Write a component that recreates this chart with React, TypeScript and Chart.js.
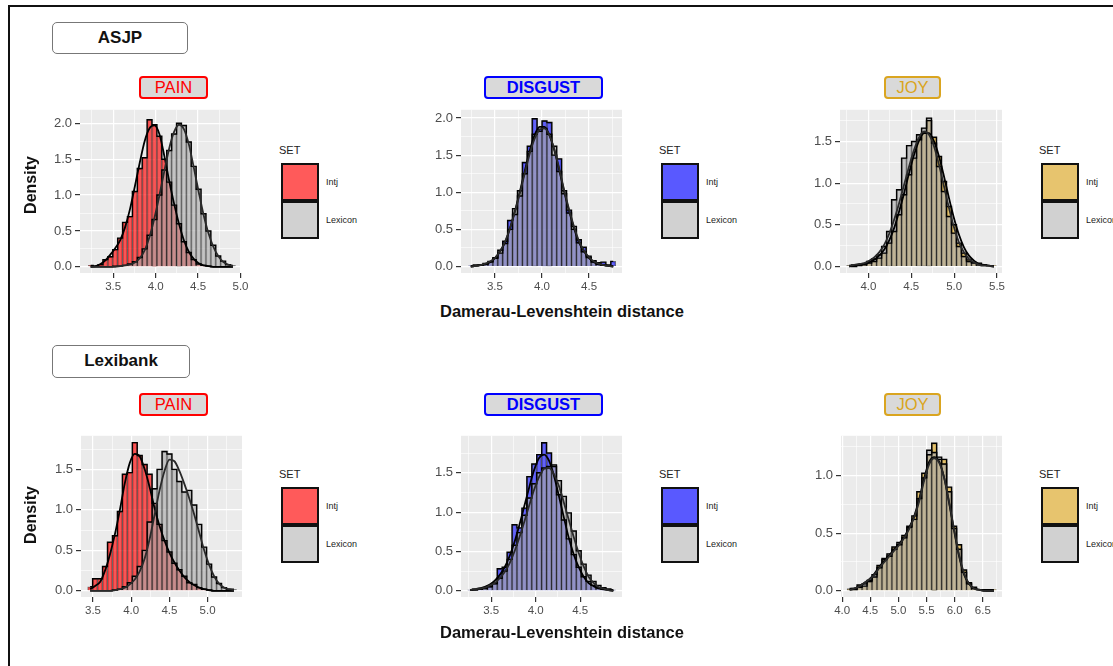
import React, { useEffect, useRef } from "react";
import { Chart, registerables } from "chart.js";
Chart.register(...registerables);

const FONT = '"Liberation Sans", Arial, Helvetica, sans-serif';

// ---------------- ASJP · PAIN ----------------
const PAIN_A_BIN_START = 3.206;
const PAIN_A_BIN_WIDTH = 0.0578;
const PAIN_A_INTJ = [0.02, 0.01, 0.03, 0.10, 0.14, 0.24, 0.40, 0.62, 0.70, 1.05, 1.37, 1.52, 2.05, 1.98, 1.82, 1.50, 1.18, 0.86, 0.60, 0.35, 0.20, 0.10, 0.04, 0.02, 0.01, 0, 0, 0, 0, 0];
const PAIN_A_LEX = [0, 0, 0, 0, 0, 0.01, 0.01, 0.02, 0.04, 0.07, 0.13, 0.25, 0.44, 0.66, 1.00, 1.35, 1.62, 1.85, 2.00, 1.97, 1.74, 1.40, 1.08, 0.74, 0.50, 0.30, 0.15, 0.08, 0.03, 0.02];
const PAIN_A_INTJ_DENS = [0, 0.01, 0.04, 0.09, 0.17, 0.26, 0.37, 0.55, 0.80, 1.12, 1.45, 1.75, 1.93, 1.97, 1.85, 1.55, 1.20, 0.88, 0.60, 0.37, 0.21, 0.11, 0.05, 0.02, 0.01, 0, 0, 0, 0, 0];
const PAIN_A_LEX_DENS = [0, 0, 0, 0, 0, 0, 0.01, 0.02, 0.03, 0.06, 0.12, 0.23, 0.42, 0.68, 0.99, 1.33, 1.65, 1.88, 1.98, 1.92, 1.71, 1.39, 1.05, 0.73, 0.47, 0.28, 0.15, 0.07, 0.03, 0.01];
const PAIN_A_XTICKS = [3.25, 3.5, 3.75, 4.0, 4.25, 4.5, 4.75, 5.0];
const PAIN_A_YTICKS = [0, 0.25, 0.5, 0.75, 1.0, 1.25, 1.5, 1.75, 2.0];

// ---------------- ASJP · DISGUST ----------------
const DISGUST_A_BIN_START = 3.217;
const DISGUST_A_BIN_WIDTH = 0.0522;
const DISGUST_A_INTJ = [0.01, 0.02, 0.02, 0.04, 0.06, 0.12, 0.18, 0.34, 0.62, 0.70, 0.95, 1.40, 1.62, 1.99, 1.85, 1.96, 1.94, 1.50, 1.45, 0.98, 0.76, 0.50, 0.36, 0.26, 0.14, 0.08, 0.05, 0.06, 0.02, 0.07];
const DISGUST_A_LEX = [0.00, 0.01, 0.02, 0.03, 0.07, 0.11, 0.22, 0.31, 0.50, 0.78, 1.02, 1.25, 1.55, 1.78, 1.82, 1.86, 1.78, 1.62, 1.28, 1.02, 0.72, 0.54, 0.32, 0.20, 0.12, 0.06, 0.03, 0.02, 0.01, 0.01];
const DISGUST_A_INTJ_DENS = [0.00, 0.01, 0.02, 0.03, 0.06, 0.12, 0.21, 0.33, 0.52, 0.75, 1.01, 1.29, 1.56, 1.77, 1.88, 1.88, 1.77, 1.57, 1.30, 1.01, 0.75, 0.52, 0.33, 0.21, 0.12, 0.06, 0.03, 0.02, 0.01, 0.00];
const DISGUST_A_LEX_DENS = [0.00, 0.01, 0.02, 0.04, 0.07, 0.12, 0.21, 0.34, 0.52, 0.74, 0.99, 1.26, 1.52, 1.72, 1.84, 1.86, 1.77, 1.58, 1.32, 1.03, 0.77, 0.54, 0.35, 0.22, 0.13, 0.07, 0.04, 0.02, 0.01, 0.00];
const DISGUST_A_XTICKS = [3.25, 3.5, 3.75, 4.0, 4.25, 4.5, 4.75];
const DISGUST_A_YTICKS = [0, 0.25, 0.5, 0.75, 1.0, 1.25, 1.5, 1.75, 2.0];

// ---------------- ASJP · JOY ----------------
const JOY_A_BIN_START = 3.747;
const JOY_A_BIN_WIDTH = 0.0582;
const JOY_A_INTJ = [0.01, 0.00, 0.01, 0.02, 0.04, 0.06, 0.10, 0.16, 0.28, 0.42, 0.62, 0.86, 1.10, 1.30, 1.52, 1.60, 1.75, 1.55, 1.32, 1.02, 0.72, 0.50, 0.28, 0.16, 0.08, 0.04, 0.04, 0.02, 0.01, 0.01];
const JOY_A_LEX = [0.01, 0.02, 0.02, 0.03, 0.06, 0.09, 0.14, 0.24, 0.42, 0.80, 0.92, 1.30, 1.45, 1.50, 1.58, 1.66, 1.78, 1.48, 1.20, 0.90, 0.60, 0.40, 0.24, 0.12, 0.06, 0.05, 0.02, 0.02, 0.01, 0.00];
const JOY_A_INTJ_DENS = [0.00, 0.01, 0.02, 0.03, 0.05, 0.08, 0.13, 0.20, 0.31, 0.46, 0.66, 0.88, 1.12, 1.34, 1.51, 1.60, 1.60, 1.50, 1.32, 1.08, 0.82, 0.58, 0.38, 0.23, 0.13, 0.07, 0.03, 0.02, 0.01, 0.00];
const JOY_A_LEX_DENS = [0.01, 0.02, 0.03, 0.04, 0.07, 0.11, 0.17, 0.26, 0.39, 0.56, 0.76, 0.98, 1.20, 1.40, 1.55, 1.62, 1.58, 1.44, 1.22, 0.96, 0.70, 0.47, 0.29, 0.17, 0.09, 0.05, 0.02, 0.01, 0.01, 0.00];
const JOY_A_XTICKS = [3.75, 4.0, 4.25, 4.5, 4.75, 5.0, 5.25, 5.5];
const JOY_A_YTICKS = [0, 0.25, 0.5, 0.75, 1.0, 1.25, 1.5, 1.75];

// ---------------- Lexibank · PAIN ----------------
const PAIN_L_BIN_START = 3.43;
const PAIN_L_BIN_WIDTH = 0.0649;
const PAIN_L_INTJ = [0.05, 0.15, 0.15, 0.30, 0.60, 0.68, 0.98, 1.44, 1.46, 1.83, 1.67, 1.56, 1.44, 1.08, 0.82, 0.62, 0.48, 0.34, 0.26, 0.18, 0.10, 0.08, 0.04, 0.02, 0.01, 0, 0, 0, 0, 0];
const PAIN_L_LEX = [0, 0, 0, 0, 0, 0.01, 0.02, 0.05, 0.10, 0.18, 0.30, 0.50, 0.85, 1.26, 1.50, 1.72, 1.69, 1.50, 1.35, 1.22, 1.24, 1.06, 0.82, 0.54, 0.33, 0.17, 0.09, 0.04, 0.02, 0.02];
const PAIN_L_INTJ_DENS = [0.02, 0.06, 0.11, 0.25, 0.45, 0.70, 1.00, 1.33, 1.58, 1.69, 1.66, 1.50, 1.28, 1.02, 0.80, 0.62, 0.47, 0.35, 0.25, 0.17, 0.11, 0.07, 0.04, 0.02, 0.01, 0, 0, 0, 0, 0];
const PAIN_L_LEX_DENS = [0, 0, 0, 0, 0, 0.01, 0.02, 0.04, 0.08, 0.14, 0.24, 0.40, 0.64, 0.94, 1.24, 1.48, 1.62, 1.60, 1.48, 1.32, 1.14, 0.94, 0.72, 0.50, 0.32, 0.18, 0.09, 0.04, 0.02, 0.01];
const PAIN_L_XTICKS = [3.5, 3.75, 4.0, 4.25, 4.5, 4.75, 5.0, 5.25];
const PAIN_L_YTICKS = [0, 0.25, 0.5, 0.75, 1.0, 1.25, 1.5, 1.75];

// ---------------- Lexibank · DISGUST ----------------
const DISGUST_L_BIN_START = 3.235;
const DISGUST_L_BIN_WIDTH = 0.0555;
const DISGUST_L_INTJ = [0.01, 0.02, 0.03, 0.04, 0.06, 0.10, 0.28, 0.30, 0.49, 0.84, 0.80, 1.05, 1.45, 1.61, 1.73, 1.88, 1.75, 1.58, 1.22, 0.90, 0.66, 0.46, 0.30, 0.18, 0.12, 0.07, 0.04, 0.03, 0.02, 0.01];
const DISGUST_L_LEX = [0.01, 0.01, 0.02, 0.03, 0.05, 0.09, 0.16, 0.25, 0.40, 0.58, 0.74, 0.96, 1.18, 1.36, 1.50, 1.56, 1.58, 1.60, 1.40, 1.20, 0.99, 0.76, 0.51, 0.34, 0.20, 0.12, 0.07, 0.04, 0.02, 0.01];
const DISGUST_L_INTJ_DENS = [0.01, 0.02, 0.03, 0.05, 0.08, 0.13, 0.20, 0.30, 0.44, 0.62, 0.84, 1.08, 1.32, 1.54, 1.69, 1.73, 1.65, 1.46, 1.20, 0.93, 0.67, 0.46, 0.30, 0.18, 0.10, 0.06, 0.03, 0.02, 0.01, 0.00];
const DISGUST_L_LEX_DENS = [0.01, 0.02, 0.03, 0.04, 0.07, 0.10, 0.16, 0.24, 0.35, 0.50, 0.68, 0.88, 1.09, 1.29, 1.45, 1.55, 1.56, 1.48, 1.33, 1.12, 0.90, 0.68, 0.48, 0.31, 0.18, 0.10, 0.05, 0.03, 0.01, 0.00];
const DISGUST_L_XTICKS = [3.25, 3.5, 3.75, 4.0, 4.25, 4.5, 4.75];
const DISGUST_L_YTICKS = [0, 0.25, 0.5, 0.75, 1.0, 1.25, 1.5, 1.75];

// ---------------- Lexibank · JOY ----------------
const JOY_L_BIN_START = 4.089;
const JOY_L_BIN_WIDTH = 0.0884;
const JOY_L_INTJ = [0.02, 0.01, 0.05, 0.04, 0.09, 0.12, 0.22, 0.28, 0.30, 0.38, 0.40, 0.48, 0.56, 0.65, 0.86, 1.02, 1.18, 1.28, 1.14, 1.14, 0.90, 0.56, 0.40, 0.18, 0.07, 0.03, 0.01, 0.01, 0.01, 0.01];
const JOY_L_LEX = [0.01, 0.02, 0.03, 0.06, 0.08, 0.14, 0.20, 0.27, 0.32, 0.36, 0.42, 0.46, 0.55, 0.62, 0.80, 0.98, 1.22, 1.20, 1.16, 1.10, 0.86, 0.54, 0.36, 0.16, 0.06, 0.02, 0.01, 0.01, 0.00, 0.00];
const JOY_L_INTJ_DENS = [0.01, 0.02, 0.04, 0.07, 0.10, 0.15, 0.21, 0.26, 0.31, 0.36, 0.41, 0.47, 0.55, 0.65, 0.80, 0.98, 1.12, 1.16, 1.12, 0.98, 0.76, 0.52, 0.30, 0.14, 0.06, 0.02, 0.01, 0.00, 0.00, 0.00];
const JOY_L_LEX_DENS = [0.01, 0.02, 0.04, 0.07, 0.10, 0.14, 0.20, 0.25, 0.30, 0.35, 0.40, 0.46, 0.54, 0.64, 0.78, 0.96, 1.10, 1.15, 1.11, 0.98, 0.77, 0.53, 0.31, 0.15, 0.06, 0.02, 0.01, 0.00, 0.00, 0.00];
const JOY_L_XTICKS = [4.0, 4.25, 4.5, 4.75, 5.0, 5.25, 5.5, 5.75, 6.0, 6.25, 6.5, 6.75];
const JOY_L_YTICKS = [0, 0.25, 0.5, 0.75, 1.0, 1.25];

const SET_LABELS = ["Intj", "Lexicon"];
const X_TITLE = "Damerau-Levenshtein distance";
const Y_TITLE = "Density";

// ---------------- styles ----------------
const EMO = {
  PAIN: { text: "#FF0000", bar: "rgba(255,0,0,0.64)", key: "#FF5A5A", bold: false },
  DISGUST: { text: "#0000FF", bar: "rgba(0,0,255,0.58)", key: "#5959FF", bold: true },
  JOY: { text: "#DAA520", bar: "rgba(218,165,32,0.62)", key: "#E7C46E", bold: false },
};
const LEX_BAR = "rgba(172,172,172,0.64)";
const LEX_KEY = "#D1D1D1";

type PanelCfg = {
  name: keyof typeof EMO;
  left: number; top: number; width: number; height: number;
  xMin: number; xMax: number; yMin: number; yMax: number;
  binStart: number; binWidth: number;
  intj: number[]; lex: number[]; intjDens: number[]; lexDens: number[];
  xTicks: number[]; yTicks: number[];
};

const PANELS: PanelCfg[] = [
  { name: "PAIN", left: 80, top: 107, width: 161, height: 166, xMin: 3.109, xMax: 5.006, yMin: -0.086, yMax: 2.188,
    binStart: PAIN_A_BIN_START, binWidth: PAIN_A_BIN_WIDTH, intj: PAIN_A_INTJ, lex: PAIN_A_LEX, intjDens: PAIN_A_INTJ_DENS, lexDens: PAIN_A_LEX_DENS, xTicks: PAIN_A_XTICKS, yTicks: PAIN_A_YTICKS },
  { name: "DISGUST", left: 461, top: 107, width: 161, height: 166, xMin: 3.139, xMax: 4.85, yMin: -0.087, yMax: 2.11,
    binStart: DISGUST_A_BIN_START, binWidth: DISGUST_A_BIN_WIDTH, intj: DISGUST_A_INTJ, lex: DISGUST_A_LEX, intjDens: DISGUST_A_INTJ_DENS, lexDens: DISGUST_A_LEX_DENS, xTicks: DISGUST_A_XTICKS, yTicks: DISGUST_A_YTICKS },
  { name: "JOY", left: 840, top: 107, width: 162, height: 166, xMin: 3.669, xMax: 5.558, yMin: -0.078, yMax: 1.88,
    binStart: JOY_A_BIN_START, binWidth: JOY_A_BIN_WIDTH, intj: JOY_A_INTJ, lex: JOY_A_LEX, intjDens: JOY_A_INTJ_DENS, lexDens: JOY_A_LEX_DENS, xTicks: JOY_A_XTICKS, yTicks: JOY_A_YTICKS },
  { name: "PAIN", left: 81, top: 433, width: 161, height: 164, xMin: 3.343, xMax: 5.45, yMin: -0.076, yMax: 1.914,
    binStart: PAIN_L_BIN_START, binWidth: PAIN_L_BIN_WIDTH, intj: PAIN_L_INTJ, lex: PAIN_L_LEX, intjDens: PAIN_L_INTJ_DENS, lexDens: PAIN_L_LEX_DENS, xTicks: PAIN_L_XTICKS, yTicks: PAIN_L_YTICKS },
  { name: "DISGUST", left: 461, top: 433, width: 161, height: 164, xMin: 3.161, xMax: 4.97, yMin: -0.078, yMax: 1.969,
    binStart: DISGUST_L_BIN_START, binWidth: DISGUST_L_BIN_WIDTH, intj: DISGUST_L_INTJ, lex: DISGUST_L_LEX, intjDens: DISGUST_L_INTJ_DENS, lexDens: DISGUST_L_LEX_DENS, xTicks: DISGUST_L_XTICKS, yTicks: DISGUST_L_YTICKS },
  { name: "JOY", left: 841, top: 433, width: 161, height: 164, xMin: 3.98, xMax: 6.84, yMin: -0.054, yMax: 1.345,
    binStart: JOY_L_BIN_START, binWidth: JOY_L_BIN_WIDTH, intj: JOY_L_INTJ, lex: JOY_L_LEX, intjDens: JOY_L_INTJ_DENS, lexDens: JOY_L_LEX_DENS, xTicks: JOY_L_XTICKS, yTicks: JOY_L_YTICKS },
];

const YW = 40; // y-axis box width
const XH = 26; // x-axis box height
const PT = 8;  // top padding
const PR = 16; // right padding

const binCenters = (start: number, w: number, n: number) =>
  Array.from({ length: n }, (_, i) => start + w * (i + 0.5));

const isMajor = (v: number) => Math.abs(v * 2 - Math.round(v * 2)) < 1e-6;

const panelBg = {
  id: "panelBg",
  beforeDraw(chart: any) {
    const { ctx, chartArea: a } = chart;
    ctx.save();
    ctx.fillStyle = "#EBEBEB";
    ctx.fillRect(a.left, a.top, a.right - a.left, a.bottom - a.top);
    ctx.restore();
  },
};

function Panel({ cfg }: { cfg: PanelCfg }) {
  const ref = useRef<HTMLCanvasElement>(null);
  const cw = cfg.width + YW + PR;
  const chh = cfg.height + PT + XH;
  useEffect(() => {
    const centers = binCenters(cfg.binStart, cfg.binWidth, cfg.intj.length);
    const pts = (arr: number[]) => arr.map((y, i) => ({ x: centers[i], y }));
    const emo = EMO[cfg.name];
    const barCommon = {
      type: "bar" as const,
      grouped: false,
      barPercentage: 1,
      categoryPercentage: 1,
      borderColor: "rgba(0,0,0,0.5)",
      borderWidth: 0.8,
    };
    const chart = new Chart(ref.current as HTMLCanvasElement, {
      type: "bar",
      data: {
        datasets: [
          { ...barCommon, label: "Intj", data: pts(cfg.intj), backgroundColor: emo.bar, order: 6 },
          { ...barCommon, label: "Lexicon", data: pts(cfg.lex), backgroundColor: LEX_BAR, order: 5 },
          { type: "line", data: pts(cfg.intj), stepped: "middle", borderColor: "#000", borderWidth: 1.4, pointRadius: 0, fill: false, order: 4 },
          { type: "line", data: pts(cfg.lex), stepped: "middle", borderColor: "#000", borderWidth: 1.4, pointRadius: 0, fill: false, order: 3 },
          { type: "line", data: pts(cfg.intjDens), borderColor: "#000", borderWidth: 1.8, tension: 0.4, cubicInterpolationMode: "monotone", pointRadius: 0, fill: false, order: 2 },
          { type: "line", data: pts(cfg.lexDens), borderColor: "#2a2a2a", borderWidth: 1.8, tension: 0.4, cubicInterpolationMode: "monotone", pointRadius: 0, fill: false, order: 1 },
        ] as any,
      },
      options: {
        animation: false,
        responsive: false,
        maintainAspectRatio: false,
        devicePixelRatio: 1,
        layout: { padding: { top: PT, right: PR, left: 0, bottom: 0 } },
        plugins: { legend: { display: false }, tooltip: { enabled: false }, title: { display: false } },
        scales: {
          x: {
            type: "linear",
            min: cfg.xMin,
            max: cfg.xMax,
            offset: false,
            afterBuildTicks: (s: any) => {
              s.ticks = cfg.xTicks.filter((v) => v >= cfg.xMin && v <= cfg.xMax).map((v) => ({ value: v }));
            },
            afterFit: (s: any) => { s.height = XH; },
            border: { display: false },
            grid: {
              offset: false,
              color: "#FFFFFF",
              lineWidth: (c: any) => (isMajor(c.tick.value) ? 1.2 : 0.6),
              tickColor: (c: any) => (isMajor(c.tick.value) ? "#333333" : "rgba(0,0,0,0)"),
              tickLength: 5,
              tickWidth: 1.2,
            },
            ticks: {
              autoSkip: false,
              maxRotation: 0,
              padding: 2,
              color: "#4D4D4D",
              font: { family: FONT, size: 11.5 },
              callback: (v: any) => (isMajor(Number(v)) ? Number(v).toFixed(1) : ""),
            },
          },
          y: {
            type: "linear",
            min: cfg.yMin,
            max: cfg.yMax,
            afterBuildTicks: (s: any) => {
              s.ticks = cfg.yTicks.filter((v) => v >= cfg.yMin && v <= cfg.yMax).map((v) => ({ value: v }));
            },
            afterFit: (s: any) => { s.width = YW; },
            border: { display: false },
            grid: {
              color: "#FFFFFF",
              lineWidth: (c: any) => (isMajor(c.tick.value) ? 1.2 : 0.6),
              tickColor: (c: any) => (isMajor(c.tick.value) ? "#333333" : "rgba(0,0,0,0)"),
              tickLength: 5,
              tickWidth: 1.2,
            },
            ticks: {
              autoSkip: false,
              padding: 3,
              color: "#4D4D4D",
              font: { family: FONT, size: 13 },
              callback: (v: any) => (isMajor(Number(v)) ? Number(v).toFixed(1) : ""),
            },
          },
        },
      } as any,
      plugins: [panelBg],
    });
    return () => chart.destroy();
  }, [cfg]);
  return (
    <canvas
      ref={ref}
      width={cw}
      height={chh}
      style={{ position: "absolute", left: cfg.left - YW, top: cfg.top - PT, width: cw, height: chh }}
    />
  );
}

function TitleBox({ name, left, top, width }: { name: keyof typeof EMO; left: number; top: number; width: number }) {
  const e = EMO[name];
  return (
    <div
      style={{
        position: "absolute", left, top, width, height: 23, boxSizing: "border-box",
        border: `2px solid ${e.text}`, borderRadius: 4, background: "#D9D9D9",
        color: e.text, fontFamily: FONT, fontSize: 16.5, fontWeight: e.bold ? 700 : 400,
        textAlign: "center", lineHeight: "19px",
      }}
    >
      {name}
    </div>
  );
}

function RowLabel({ text, left, top, width, height }: { text: string; left: number; top: number; width: number; height: number }) {
  return (
    <div
      style={{
        position: "absolute", left, top, width, height, boxSizing: "border-box",
        border: "1.5px solid #777", borderRadius: 5, background: "#fff",
        fontFamily: FONT, fontSize: 17, fontWeight: 700, color: "#111",
        textAlign: "center", lineHeight: `${height - 3}px`,
      }}
    >
      {text}
    </div>
  );
}

function Legend({ left, top, color }: { left: number; top: number; color: string }) {
  const key = (t: number, c: string) => (
    <div style={{ position: "absolute", left, top: t, width: 38, height: 38, boxSizing: "border-box", border: "2px solid #111", background: c }} />
  );
  const lab = (t: number, s: string) => (
    <div style={{ position: "absolute", left: left + 45, top: t, fontFamily: FONT, fontSize: 9, color: "#222", lineHeight: "12px", whiteSpace: "nowrap" }}>{s}</div>
  );
  return (
    <>
      <div style={{ position: "absolute", left: left - 2, top: top - 20, fontFamily: FONT, fontSize: 11, color: "#222", lineHeight: "14px" }}>SET</div>
      {key(top, color)}
      {key(top + 38, LEX_KEY)}
      {lab(top + 13, SET_LABELS[0])}
      {lab(top + 51, SET_LABELS[1])}
    </>
  );
}

function YTitle({ cy }: { cy: number }) {
  return (
    <div
      style={{
        position: "absolute", left: 31 - 40, top: cy - 10, width: 80, height: 20,
        transform: "rotate(-90deg)", textAlign: "center", lineHeight: "20px",
        fontFamily: FONT, fontSize: 16, fontWeight: 700, color: "#111",
      }}
    >
      {Y_TITLE}
    </div>
  );
}

function XTitle({ cy }: { cy: number }) {
  return (
    <div
      style={{
        position: "absolute", left: 412, top: cy - 10, width: 300, height: 20,
        textAlign: "center", lineHeight: "20px",
        fontFamily: FONT, fontSize: 16.5, fontWeight: 700, color: "#111",
      }}
    >
      {X_TITLE}
    </div>
  );
}

export default function App() {
  return (
    <div style={{ position: "fixed", left: 0, top: 0, width: 1113, height: 666, overflow: "hidden", background: "#fff" }}>
      <div style={{ position: "absolute", left: 8, top: 5, width: 1200, height: 800, border: "2px solid #111" }} />
      <RowLabel text="ASJP" left={52} top={22} width={136} height={32} />
      <RowLabel text="Lexibank" left={52} top={345} width={138} height={33} />

      <TitleBox name="PAIN" left={139} top={76} width={69} />
      <TitleBox name="DISGUST" left={484} top={76} width={119} />
      <TitleBox name="JOY" left={884} top={76} width={57} />
      <TitleBox name="PAIN" left={139} top={393} width={69} />
      <TitleBox name="DISGUST" left={484} top={393} width={119} />
      <TitleBox name="JOY" left={884} top={393} width={57} />

      {PANELS.map((p, i) => (
        <Panel key={i} cfg={p} />
      ))}

      <Legend left={281} top={163} color={EMO.PAIN.key} />
      <Legend left={661} top={163} color={EMO.DISGUST.key} />
      <Legend left={1041} top={163} color={EMO.JOY.key} />
      <Legend left={281} top={487} color={EMO.PAIN.key} />
      <Legend left={661} top={487} color={EMO.DISGUST.key} />
      <Legend left={1041} top={487} color={EMO.JOY.key} />

      <YTitle cy={185} />
      <YTitle cy={515} />
      <XTitle cy={311} />
      <XTitle cy={632} />
    </div>
  );
}
